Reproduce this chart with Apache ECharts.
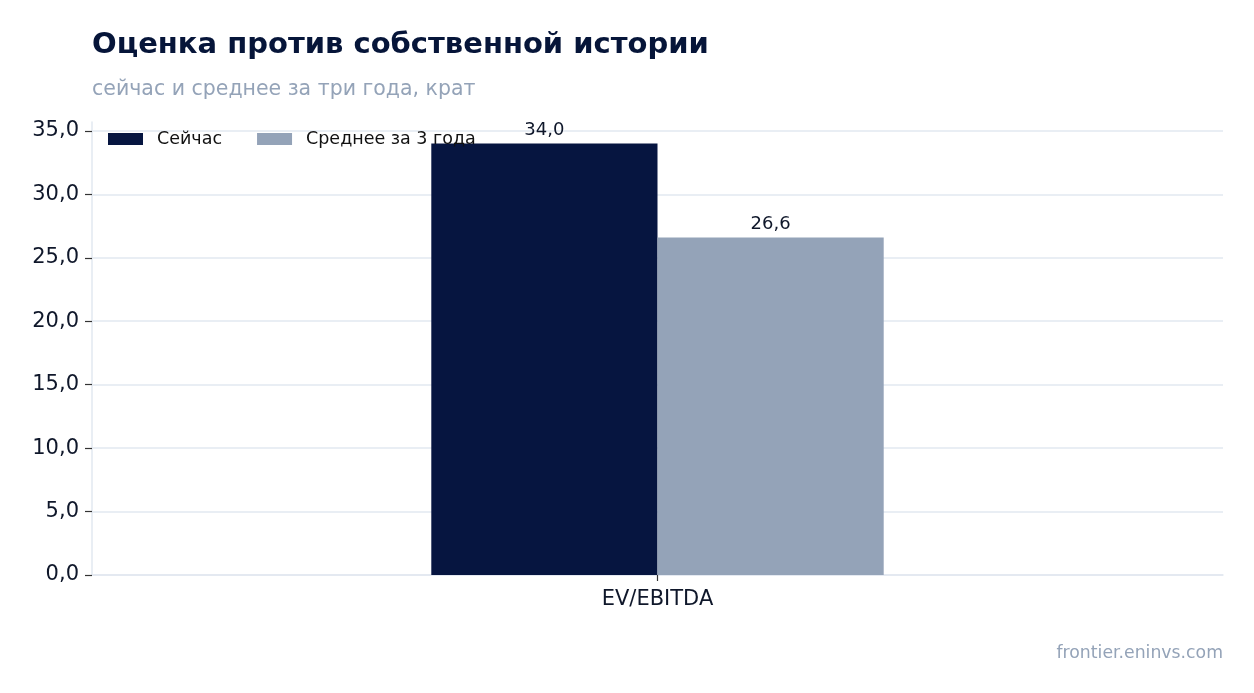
<!DOCTYPE html>
<html>
<head>
    <meta charset="utf-8">
    <title>Оценка против собственной истории</title>
    <script src="https://cdn.jsdelivr.net/npm/echarts@6/dist/echarts.min.js"></script>
    <style type="text/css">
        html, body { margin: 0; padding: 0; background: #fff; }
        #chart { width: 1254px; height: 693px; }
    </style>
</head>
<body>
    <div id="chart"></div>

    <script type="text/javascript">

        var categories = ['EV/EBITDA'];
        var seriesNames = ['Сейчас', 'Среднее за 3 года'];
        var nowValues = [34.0];
        var avgValues = [26.6];
        var yTicks = [0, 5, 10, 15, 20, 25, 30, 35];

        var navy = '#061540';
        var slate = '#94a3b8';
        var font = 'DejaVu Sans';

        function fmt(v) {
            return v.toFixed(1).replace('.', ',');
        }

        var chart = echarts.init(document.getElementById('chart'));

        var barLabel = {
            show: true,
            position: 'top',
            distance: 4,
            fontFamily: font,
            fontSize: 18,
            color: '#0f172a',
            formatter: function (p) { return fmt(p.value); }
        };

        var option = {
            backgroundColor: '#fff',
            animation: false,
            textStyle: { fontFamily: font },
            title: [
                {
                    text: 'Оценка против собственной истории',
                    left: 92,
                    top: 31,
                    padding: 0,
                    textStyle: { fontFamily: font, fontSize: 29, fontWeight: 'bold', color: '#061539' }
                },
                {
                    text: 'сейчас и среднее за три года, крат',
                    left: 92,
                    top: 79,
                    padding: 0,
                    textStyle: { fontFamily: font, fontSize: 20.5, fontWeight: 'normal', color: slate }
                },
                {
                    text: 'frontier.eninvs.com',
                    right: 31,
                    top: 645,
                    padding: 0,
                    textStyle: { fontFamily: font, fontSize: 17.3, fontWeight: 'normal', color: slate }
                }
            ],
            legend: {
                left: 108,
                top: 130,
                padding: 0,
                itemWidth: 35,
                itemHeight: 12,
                itemGap: 35,
                icon: 'rect',
                textStyle: { fontFamily: font, fontSize: 17.5, color: '#111', padding: [0, 0, 0, 9] },
                data: seriesNames
            },
            grid: {
                left: 92,
                right: 31,
                top: 122,
                bottom: 118,
                containLabel: false
            },
            xAxis: {
                type: 'category',
                data: categories,
                boundaryGap: true,
                axisLine: { show: true, lineStyle: { color: '#e2e8f0', width: 1.5 } },
                axisTick: { show: true, alignWithLabel: true, length: 6, lineStyle: { color: '#333', width: 1.2 } },
                axisLabel: { fontFamily: font, fontSize: 21, color: '#0f172a', margin: 14 },
                splitLine: { show: false }
            },
            yAxis: {
                type: 'value',
                min: 0,
                max: 35.7,
                interval: 5,
                axisLine: { show: true, lineStyle: { color: '#e2e8f0', width: 1.5 } },
                axisTick: { show: true, length: 7, lineStyle: { color: '#333', width: 1.2 }, customValues: yTicks },
                axisLabel: {
                    fontFamily: font, fontSize: 21, color: '#0f172a', margin: 13,
                    padding: [4, 0, 0, 0],
                    customValues: yTicks,
                    formatter: function (v) { return fmt(v); }
                },
                splitLine: { show: true, lineStyle: { color: '#e2e8f0', width: 1.5 } }
            },
            series: [
                {
                    name: seriesNames[0],
                    type: 'bar',
                    data: nowValues,
                    barWidth: '20%',
                    barGap: '0%',
                    itemStyle: { color: navy },
                    label: barLabel
                },
                {
                    name: seriesNames[1],
                    type: 'bar',
                    data: avgValues,
                    barWidth: '20%',
                    barGap: '0%',
                    itemStyle: { color: slate },
                    label: barLabel
                }
            ]
        };
        chart.setOption(option);

    </script>
</body>
</html>
